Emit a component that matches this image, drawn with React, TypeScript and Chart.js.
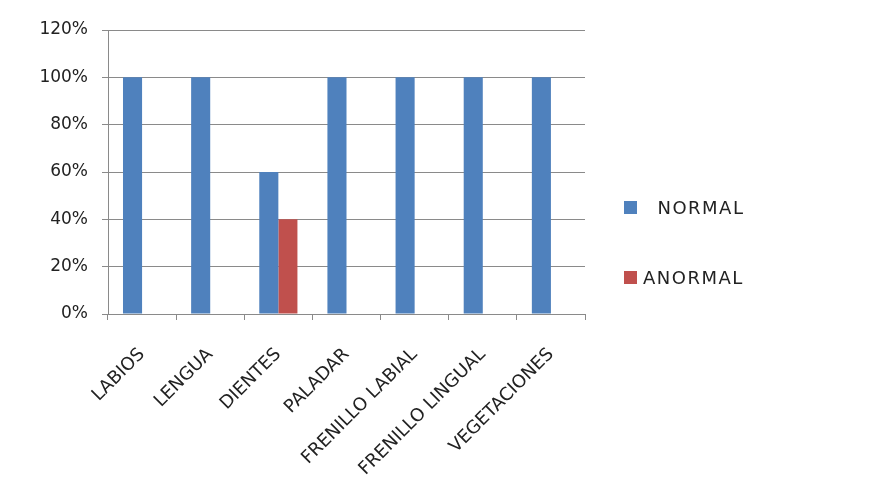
import React, { useEffect, useRef } from "react";
import { Chart, registerables } from "chart.js";

Chart.register(...registerables);

const categories = ["LABIOS", "LENGUA", "DIENTES", "PALADAR", "FRENILLO LABIAL", "FRENILLO LINGUAL", "VEGETACIONES"];
const normalValues = [1, 1, 0.6, 1, 1, 1, 1];
const anormalValues = [0, 0, 0.4, 0, 0, 0, 0];
const seriesNames = ["  NORMAL", "ANORMAL"];
const seriesColors = ["#4F81BD", "#C0504D"];
const yMax = 1.2;
const yStep = 0.2;

const FONT = "'DejaVu Sans', sans-serif";
const GRID = "#8a8a8a";

export default function App() {
  const ref = useRef<HTMLCanvasElement>(null);
  useEffect(() => {
    document.body.style.margin = "0";
    const chart = new Chart(ref.current!, {
      type: "bar",
      data: {
        labels: categories,
        datasets: [
          { label: seriesNames[0], data: normalValues, backgroundColor: seriesColors[0], categoryPercentage: 0.56, barPercentage: 1 },
          { label: seriesNames[1], data: anormalValues, backgroundColor: seriesColors[1], categoryPercentage: 0.56, barPercentage: 1 },
        ],
      },
      options: {
        animation: false,
        responsive: false,
        maintainAspectRatio: false,
        layout: { padding: { top: 30, right: 285, left: 0, bottom: 0 } },
        plugins: { legend: { display: false }, tooltip: { enabled: false } },
        scales: {
          x: {
            afterFit: (s: any) => { s.height = 190; },
            grid: { display: true, drawOnChartArea: false, tickLength: 6, color: GRID, offset: true },
            border: { display: true, color: GRID, width: 1 },
            ticks: { minRotation: 45, maxRotation: 45, color: "#222", font: { family: FONT, size: 18 }, padding: 24 },
          },
          y: {
            min: 0,
            max: yMax,
            afterFit: (s: any) => { s.width = 108; },
            grid: { color: GRID, tickLength: 6 },
            border: { display: true, color: GRID, width: 1 },
            ticks: {
              stepSize: yStep,
              color: "#222",
              padding: 14,
              font: { family: FONT, size: 17 },
              callback: (v: any) => Math.round(Number(v) * 100) + "%",
            },
          },
        },
      },
    });
    return () => chart.destroy();
  }, []);

  const legendTops = [201, 271];
  return (
    <div style={{ position: "relative", width: 870, height: 504, fontFamily: FONT }}>
      <canvas ref={ref} width={870} height={504} style={{ display: "block" }} />
      {seriesNames.map((n, i) => (
        <div key={n} style={{ position: "absolute", left: 624, top: legendTops[i], display: "flex", alignItems: "center", height: 13 }}>
          <div style={{ width: 13, height: 13, background: seriesColors[i] }} />
          <span style={{ marginLeft: 6, fontSize: 18, color: "#222", whiteSpace: "pre", letterSpacing: "1.5px", lineHeight: "13px" }}>{n}</span>
        </div>
      ))}
    </div>
  );
}
